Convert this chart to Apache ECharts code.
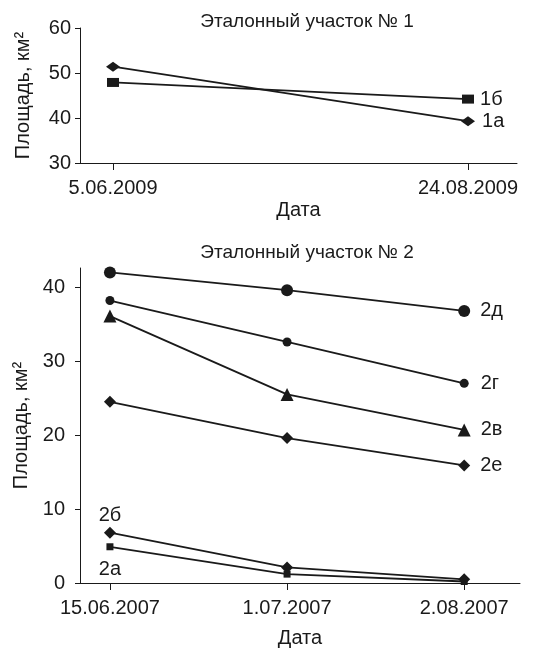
<!DOCTYPE html>
<html>
<head>
<meta charset="utf-8">
<script src="https://cdn.jsdelivr.net/npm/echarts@6/dist/echarts.min.js"></script>
<style>
  html, body { margin: 0; padding: 0; background: #fff; }
  #main { width: 551px; height: 649px; }
</style>
</head>
<body>
<div id="main"></div>
<script>
// section 1 (2009)
const dates1 = ["5.06.2009", "24.08.2009"];
const s1a = [51.4, 39.3];
const s1b = [47.9, 44.2];

// section 2 (2007)
const dates2 = ["15.06.2007", "1.07.2007", "2.08.2007"];
const s2d = [42.0, 39.6, 36.8];
const s2g = [38.2, 32.6, 27.0];
const s2v = [36.1, 25.5, 20.7];
const s2e = [24.5, 19.6, 15.9];
const s2b = [6.8, 2.1, 0.5];
const s2a = [4.9, 1.2, 0.2];

const ticks1 = [30, 40, 50, 60];
const ticks2 = [0, 10, 20, 30, 40];

const FONT = "'Liberation Sans', Arial, sans-serif";
const INK = "#1a1a1a";

// put a text label on one point of a series
function labelAt(vals, idx, text, label) {
  return vals.map((v, i) => {
    if (i !== idx) return [i, v];
    return { value: [i, v], label: Object.assign({ show: true, formatter: text, color: INK, fontSize: 20, fontFamily: FONT }, label) };
  });
}

function line(name, grid, data, symbol, size) {
  return {
    name: name,
    type: "line",
    xAxisIndex: grid,
    yAxisIndex: grid,
    data: data,
    symbol: symbol,
    symbolSize: size,
    showAllSymbol: true,
    lineStyle: { color: INK, width: 1.8 },
    itemStyle: { color: INK },
    z: 3
  };
}

function xAxisCfg(grid, labels, min, max, gap) {
  const idx = labels.map((d, i) => i);
  return {
    type: "value",
    gridIndex: grid,
    min: min,
    max: max,
    name: "Дата",
    nameLocation: "middle",
    nameGap: gap,
    nameTextStyle: { color: INK, fontSize: 20, fontFamily: FONT },
    axisLine: { onZero: false, lineStyle: { color: INK, width: 1 } },
    axisTick: { show: true, length: 7, customValues: idx, lineStyle: { color: INK } },
    axisLabel: { customValues: idx, formatter: v => labels[Math.round(v)], color: INK, fontSize: 20, fontFamily: FONT, margin: 15 },
    splitLine: { show: false }
  };
}

function yAxisCfg(grid, ticks, min, max, margin) {
  return {
    type: "value",
    gridIndex: grid,
    min: min,
    max: max,
    name: "Площадь, км²",
    nameLocation: "middle",
    nameGap: 47,
    nameTextStyle: { color: INK, fontSize: 20, fontFamily: FONT },
    axisLine: { show: true, onZero: false, lineStyle: { color: INK, width: 1 } },
    axisTick: { show: true, length: 5, customValues: ticks, lineStyle: { color: INK } },
    axisLabel: { customValues: ticks, color: INK, fontSize: 20, fontFamily: FONT, margin: margin },
    splitLine: { show: false }
  };
}

const option = {
  animation: false,
  backgroundColor: "#fff",
  title: [
    { text: "Эталонный участок № 1", left: 302, top: 7, textAlign: "center",
      textStyle: { color: INK, fontSize: 19, fontWeight: "normal", fontFamily: FONT } },
    { text: "Эталонный участок № 2", left: 302, top: 238, textAlign: "center",
      textStyle: { color: INK, fontSize: 19, fontWeight: "normal", fontFamily: FONT } }
  ],
  grid: [
    { left: 80, right: 34, top: 28, height: 135 },
    { left: 80, right: 31, top: 268, height: 320 }
  ],
  xAxis: [
    xAxisCfg(0, dates1, -0.093, 1.138, 37),
    xAxisCfg(1, dates2, -0.169, 2.315, 45)
  ],
  yAxis: [
    yAxisCfg(0, ticks1, 30, 60, 9),
    yAxisCfg(1, ticks2, 0, 42.6, 15)
  ],
  series: [
    line("1а", 0, labelAt(s1a, 1, "1а", { position: "right", distance: 7 }), "diamond", [14, 10]),
    line("1б", 0, labelAt(s1b, 1, "1б", { position: "right", distance: 6 }), "rect", [12, 9]),
    line("2д", 1, labelAt(s2d, 2, "2д", { position: "right", distance: 10 }), "circle", 12),
    line("2г", 1, labelAt(s2g, 2, "2г", { position: "right", distance: 12 }), "circle", 9),
    line("2в", 1, labelAt(s2v, 2, "2в", { position: "right", distance: 10 }), "triangle", 13),
    line("2е", 1, labelAt(s2e, 2, "2е", { position: "right", distance: 10 }), "diamond", 12),
    line("2б", 1, labelAt(s2b, 0, "2б", { position: "top", distance: 1 }), "diamond", 12),
    line("2а", 1, labelAt(s2a, 0, "2а", { position: "bottom", distance: 9 }), "rect", 7)
  ]
};

const chart = echarts.init(document.getElementById("main"), null, { renderer: "canvas" });
chart.setOption(option);
</script>
</body>
</html>
